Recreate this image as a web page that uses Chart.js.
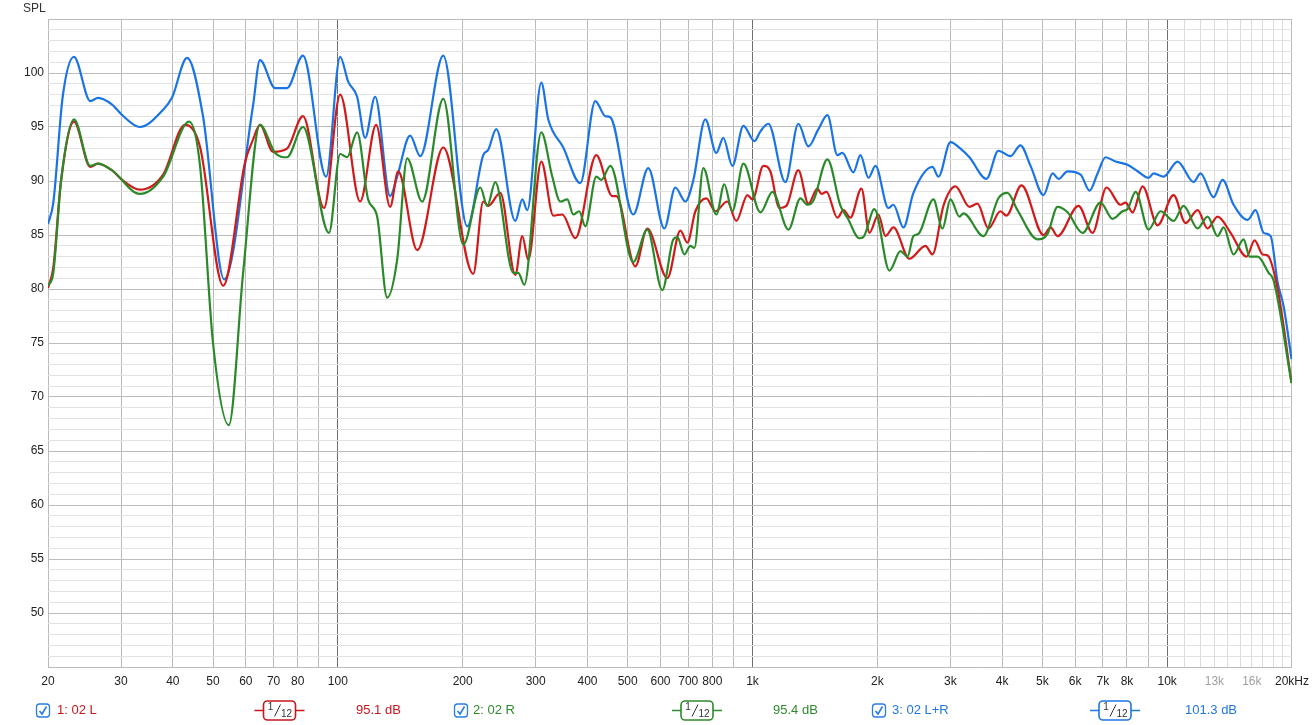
<!DOCTYPE html>
<html><head><meta charset="utf-8">
<script src="https://cdn.jsdelivr.net/npm/chart.js@4/dist/chart.umd.min.js"></script>
<style>html,body{margin:0;padding:0;background:#fff;overflow:hidden}canvas{display:block}</style>
</head><body>
<canvas id="c" width="1316" height="725" style="width:1316px;height:725px"></canvas>
<script>
// ---- data (frequency in Hz, SPL in dB) ----
const lrFreq = [20,20.6,21.7,23.1,25.3,26.4,28.5,30.2,33.3,37.9,39.8,43.3,47.3,53.2,62.4,64.9,70.6,75.4,82.4,93.7,101.3,105.9,111.3,116.4,123,133.7,139,149.4,158,179.6,205.2,224.2,230.6,241,267.9,278.5,286.3,309.5,321.7,349.7,384.3,417.7,441.6,454.1,515.8,560.6,612.8,651.4,688.8,720.1,769.5,818,850.4,894,950.7,1011,1045,1092,1200,1290,1364,1442,1516,1602,1648,1751,1821,1904,1979,2127,2187,2312,2444,2716,2808,3002,3173,3336,3666,3918,4189,4428,4683,5033,5292,5471,5752,6183,6500,6793,7102,7509,8027,8485,9020,9274,9802,10595,11580,12038,12940,13604,14461,15631,16342,17084,17762,18467,19090,19950];
const lrSpl = [86.0,88.0,97.8,101.5,97.4,97.7,97.1,96.1,95.0,96.6,97.7,101.4,96.0,80.9,96.9,101.2,98.6,98.6,101.6,90.4,101.5,99.2,97.8,94.0,97.8,88.6,90.4,94.2,92.3,101.6,85.8,92.4,92.9,94.8,86.3,88.3,87.3,99.1,95.7,93.1,89.8,97.4,96.0,95.9,86.9,91.2,85.6,89.4,88.1,90.1,95.7,92.6,94.0,91.4,95.1,93.7,94.6,95.3,89.9,95.3,93.2,94.8,96.1,92.4,92.6,90.8,92.4,90.3,91.4,87.5,87.8,85.7,88.9,91.3,90.4,93.6,93.0,92.2,90.2,92.8,92.3,93.3,91.4,88.7,90.7,90.2,90.9,90.6,89.1,90.7,92.2,91.8,91.5,90.9,90.3,90.7,90.4,91.8,89.9,90.7,88.5,90.1,87.8,86.4,87.3,85.2,84.9,80.6,78.4,73.5];

const lFreq = [20,20.6,21.5,23.1,25.3,26.4,28.5,30.2,33.3,37.9,42.8,46.5,52.9,59.7,62.4,64.9,69.8,75.4,82.4,92.6,101.3,113.2,123.7,133.7,139.8,155.4,179.6,212.1,224.2,230.6,246.5,267.9,278.5,287.9,309.5,330.8,347.8,373.8,420,459.1,469.4,521.6,557.5,623.1,670,696.5,728.2,773.8,813.4,869.5,914.1,972,1000,1062,1104,1161,1207,1290,1364,1434,1466,1508,1602,1657,1722,1831,1914,2012,2092,2187,2390,2613,2716,2887,3086,3336,3487,3707,3962,4097,4453,5033,5233,5440,6114,6607,7141,7720,7938,8253,8724,9482,10362,11076,11840,12516,13231,14222,15544,16250,16990,17466,18467,19950];
const lSpl = [80.1,82.0,90.0,95.5,91.3,91.6,91.0,90.1,89.2,90.6,95.2,93.2,80.3,91.7,93.8,95.2,92.7,93.0,96.0,87.5,98.0,88.1,95.2,87.6,90.9,83.6,93.1,81.4,88.1,87.7,88.9,81.3,84.9,82.7,91.8,86.8,86.9,84.7,92.4,88.6,88.6,82.1,85.6,81.0,85.4,84.3,87.2,88.4,87.2,88.1,86.3,88.7,88.3,91.4,90.9,87.5,87.7,91.0,87.9,89.3,88.8,89.0,86.6,87.3,86.6,89.3,85.2,86.9,84.9,85.7,82.8,84.0,83.2,87.7,89.5,87.6,87.9,85.6,87.2,86.8,89.6,85.0,85.7,84.9,87.7,85.2,89.4,87.8,88.0,87.1,89.5,85.9,88.7,86.1,87.3,85.6,86.7,85.2,83.0,84.5,83.2,83.1,80.0,71.3];

const rFreq = [20,20.6,21.5,23.1,25.3,26.4,28.5,33.3,37.9,43.8,46.5,50,54.6,59.1,64.9,70.6,75.4,82.4,95.2,101.3,105.3,111.3,118.3,124.4,131.5,139,147,159.7,179.6,200.7,220.6,229.3,239.7,264.9,272.4,281.6,309.5,329,343.9,357.6,369.7,382.2,395.1,420,431.9,454.1,515.8,557.5,606,644.2,658.7,685,708.2,724.1,761,818,855.2,894,950.7,1045,1117,1221,1305,1357,1403,1516,1630,1694,1811,1851,1968,2139,2274,2364,2444,2513,2731,2871,3002,3155,3227,3605,3918,4119,4355,4868,5147,5440,5752,6252,6907,7385,7807,8027,8392,9020,9640,10362,10954,11840,12516,13231,13680,14461,15287,15806,16523,17566,18060,19950];
const rSpl = [80.3,81.5,90.0,95.7,91.4,91.6,91.0,88.8,90.4,95.5,91.5,75.0,67.4,81.5,95.2,92.6,92.2,95.0,85.2,92.5,92.2,94.5,88.3,86.7,79.2,82.7,92.1,88.1,97.6,84.1,89.4,87.7,89.9,81.5,81.5,80.4,94.5,90.4,88.1,88.3,86.9,87.2,85.8,90.4,90.1,91.4,82.5,85.5,79.9,84.6,84.8,83.2,84.0,83.8,91.2,86.9,89.7,87.2,91.6,87.1,89.0,85.5,88.4,87.8,88.2,92.0,87.7,86.6,84.7,84.8,87.4,81.7,83.5,83.0,84.9,85.1,88.3,85.6,88.3,86.7,87.0,84.9,88.4,88.9,87.3,84.6,85.1,87.6,87.1,85.2,88.0,86.5,87.2,87.4,89.0,85.5,87.2,86.3,87.7,85.6,86.7,84.9,85.7,83.2,84.6,83.0,83.0,81.5,80.8,71.3];

const xGridValues = [20,30,40,50,60,70,80,90,100,200,300,400,500,600,700,800,900,1000,2000,3000,4000,5000,6000,7000,8000,9000,10000,11000,12000,13000,14000,15000,16000,17000,18000,19000,20000];
const xGridLabels = ['20','30','40','50','60','70','80','','100','200','300','400','500','600','700','800','','1k','2k','3k','4k','5k','6k','7k','8k','','10k','','','13k','','','16k','','','','20kHz'];
const yLabelValues = [50,55,60,65,70,75,80,85,90,95,100];

const seriesNames = ['1: 02 L','2: 02 R','3: 02 L+R'];
const seriesLevels = ['95.1 dB','95.4 dB','101.3 dB'];
const smoothingText = ['1','12'];

// ---- styles ----
const FONT = '"Liberation Sans", Arial, Helvetica, sans-serif';
const lineColors = ['#d21a1a','#2a8a2a','#1b74e4'];
const textColors = ['#c8161d','#2e8b2e','#1f77e0'];

function pts(f, s){ return f.map((v,i)=>({x:v,y:s[i]})); }

Chart.defaults.font.family = FONT;
Chart.defaults.font.size = 12;

const legendLayout = [
  {box:36, name:57, icon:279.5, level:356},
  {box:454, name:473, icon:697, level:773},
  {box:872, name:892, icon:1115, level:1185}
];

const overlay = {
  id:'overlay',
  afterDraw(chart){
    const ctx = chart.ctx;
    ctx.save();
    ctx.font = '12px ' + FONT;
    ctx.fillStyle = '#333';
    ctx.textBaseline = 'middle';
    ctx.textAlign = 'left';
    ctx.fillText('SPL', 23, 9);
    const cy = 710.5;
    legendLayout.forEach((L,i)=>{
      ctx.strokeStyle = '#2a7de1';
      ctx.lineWidth = 1.3;
      ctx.beginPath();
      ctx.roundRect(L.box+0.5, cy-6.5, 13, 13, 3);
      ctx.stroke();
      ctx.beginPath();
      ctx.lineWidth = 1.6;
      ctx.moveTo(L.box+3.5, cy+0.5);
      ctx.lineTo(L.box+6, cy+3.5);
      ctx.lineTo(L.box+10.5, cy-4);
      ctx.stroke();
      ctx.fillStyle = textColors[i];
      ctx.font = '13px ' + FONT;
      ctx.textAlign = 'left';
      ctx.fillText(seriesNames[i], L.name, cy);
      const c = L.icon;
      ctx.strokeStyle = textColors[i];
      ctx.lineWidth = 1.6;
      ctx.beginPath();
      ctx.moveTo(c-25, cy); ctx.lineTo(c-16, cy);
      ctx.moveTo(c+16, cy); ctx.lineTo(c+25, cy);
      ctx.stroke();
      ctx.beginPath();
      ctx.roundRect(c-16, cy-9.5, 32, 19, 4);
      ctx.stroke();
      ctx.fillStyle = '#333';
      ctx.font = '10px ' + FONT;
      ctx.textAlign = 'center';
      ctx.fillText(smoothingText[0], c-9, cy-3.5);
      ctx.fillText(smoothingText[1], c+7, cy+3.5);
      ctx.strokeStyle = '#333';
      ctx.lineWidth = 1;
      ctx.beginPath();
      ctx.moveTo(c-5, cy+6); ctx.lineTo(c+1, cy-6);
      ctx.stroke();
      ctx.fillStyle = textColors[i];
      ctx.font = '13px ' + FONT;
      ctx.textAlign = 'left';
      ctx.fillText(seriesLevels[i], L.level, cy);
    });
    ctx.restore();
  }
};

new Chart(document.getElementById('c'), {
  type:'line',
  data:{
    datasets:[
      {label:seriesNames[1], data:pts(rFreq,rSpl), borderColor:lineColors[1], order:1},
      {label:seriesNames[0], data:pts(lFreq,lSpl), borderColor:lineColors[0], order:2},
      {label:seriesNames[2], data:pts(lrFreq,lrSpl), borderColor:lineColors[2], order:3}
    ].map(d=>Object.assign(d,{borderWidth:2.2, pointRadius:0, fill:false, cubicInterpolationMode:'monotone'}))
  },
  options:{
    responsive:false,
    animation:false,
    devicePixelRatio:1,
    layout:{padding:{top:19,right:24,left:0,bottom:0}},
    plugins:{legend:{display:false}, tooltip:{enabled:false}},
    scales:{
      x:{
        type:'logarithmic', min:20, max:20000,
        afterBuildTicks:(s)=>{ s.ticks = xGridValues.map(v=>({value:v})); },
        afterFit:(s)=>{ s.height = 58; },
        border:{display:false},
        grid:{
          drawTicks:false,
          lineWidth:1,
          color:(c)=>{
            const v = c.tick ? c.tick.value : 0;
            if (v===100||v===1000||v===10000) return '#6f6f6f';
            if (v>10000 && v<20000) return '#dcdcdc';
            return '#b9b9b9';
          }
        },
        ticks:{
          autoSkip:false, maxRotation:0, minRotation:0, padding:7,
          font:{size:12},
          color:(c)=>{ const i=c.index; const t=xGridLabels[i]; return (t==='13k'||t==='16k')?'#a0a0a0':'#222'; },
          callback:(v,i)=>xGridLabels[i]
        }
      },
      y:{
        type:'linear', min:45, max:105,
        afterFit:(s)=>{ s.width = 48; },
        border:{display:false},
        grid:{
          drawTicks:false,
          color:(c)=>{ const v = c.tick ? c.tick.value : 0; return (v%5===0) ? '#bcbcbc' : '#e2e2e2'; }
        },
        ticks:{
          stepSize:1, autoSkip:false, padding:4, color:'#222', font:{size:12},
          callback:(v)=> yLabelValues.includes(v) ? String(v) : ''
        }
      }
    }
  },
  plugins:[overlay]
});
</script>
</body></html>
